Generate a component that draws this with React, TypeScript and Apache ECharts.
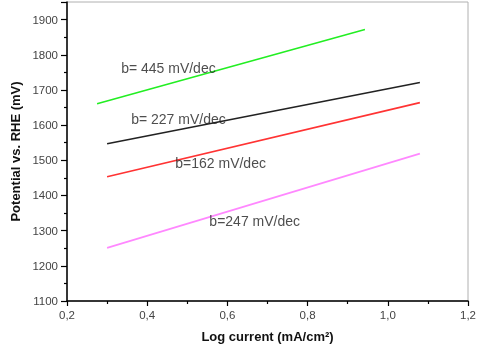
import React, { useEffect, useRef } from "react";
import * as echarts from "echarts";

const greenLine = [[0.275, 1661], [0.943, 1872]];
const blackLine = [[0.3, 1547], [1.08, 1721]];
const redLine = [[0.3, 1453], [1.08, 1664]];
const pinkLine = [[0.3, 1251], [1.08, 1519]];
const labels = ["b= 445 mV/dec", "b= 227 mV/dec", "b=162 mV/dec", "b=247 mV/dec"];
const labelPos = [[0.335, 1762], [0.36, 1618], [0.47, 1492], [0.555, 1328]];

export default function App() {
  const ref = useRef<HTMLDivElement>(null);
  useEffect(() => {
    const chart = echarts.init(ref.current!, null, { renderer: "svg" });
    const font = "Liberation Sans, Arial, sans-serif";
    const mk = (data: number[][], color: string) => ({
      type: "line",
      data,
      symbol: "none",
      lineStyle: { color, width: 1.6 },
    });
    chart.setOption({
      animation: false,
      grid: {
        left: 67, right: 12, top: 2, bottom: 43,
        containLabel: false, outerBoundsMode: "none",
        show: true, borderColor: "#b0b0b0", borderWidth: 1,
      },
      xAxis: {
        type: "value",
        min: 0.2,
        max: 1.2,
        interval: 0.2,
        name: "Log current (mA/cm²)",
        nameLocation: "middle",
        nameGap: 29,
        nameTextStyle: { fontFamily: font, fontWeight: "bold", fontSize: 13, color: "#111" },
        axisLine: { lineStyle: { color: "#000", width: 1.5 } },
        axisTick: { inside: false, length: 5, lineStyle: { color: "#000", width: 1.2 } },
        minorTick: { show: true, splitNumber: 2, length: 3, lineStyle: { color: "#000", width: 1.2 } },
        splitLine: { show: false },
        axisLabel: {
          fontFamily: font,
          fontSize: 11.5,
          color: "#444",
          margin: 8,
          formatter: (v: number) => v.toFixed(1).replace(".", ","),
        },
      },
      yAxis: {
        type: "value",
        min: 1100,
        max: 1950,
        interval: 100,
        name: "Potential vs. RHE (mV)",
        nameLocation: "middle",
        nameGap: 45,
        nameTextStyle: { fontFamily: font, fontWeight: "bold", fontSize: 13, color: "#111" },
        axisLine: { lineStyle: { color: "#000", width: 1.5 } },
        axisTick: { inside: false, length: 6, lineStyle: { color: "#000", width: 1.2 } },
        minorTick: { show: true, splitNumber: 2, length: 3, lineStyle: { color: "#000", width: 1.2 } },
        splitLine: { show: false },
        axisLabel: {
          fontFamily: font,
          fontSize: 11.5,
          color: "#444",
          margin: 9,
          showMaxLabel: false,
          formatter: (v: number) => (v % 100 === 0 ? String(v) : ""),
        },
      },
      series: [
        mk(greenLine, "#22ee22"),
        mk(blackLine, "#222222"),
        mk(redLine, "#ff3333"),
        mk(pinkLine, "#ff88ff"),
        {
          type: "scatter",
          symbolSize: 0,
          data: labelPos.map((p, i) => ({ value: p, name: labels[i] })),
          label: {
            show: true,
            position: "right",
            distance: 0,
            formatter: (p: any) => p.name,
            fontFamily: font,
            fontSize: 14,
            color: "#222",
          },
          z: 5,
        },
      ],
    });
    return () => chart.dispose();
  }, []);
  return <div ref={ref} style={{ position: "fixed", left: 0, top: 0, width: 480, height: 344 }} />;
}
